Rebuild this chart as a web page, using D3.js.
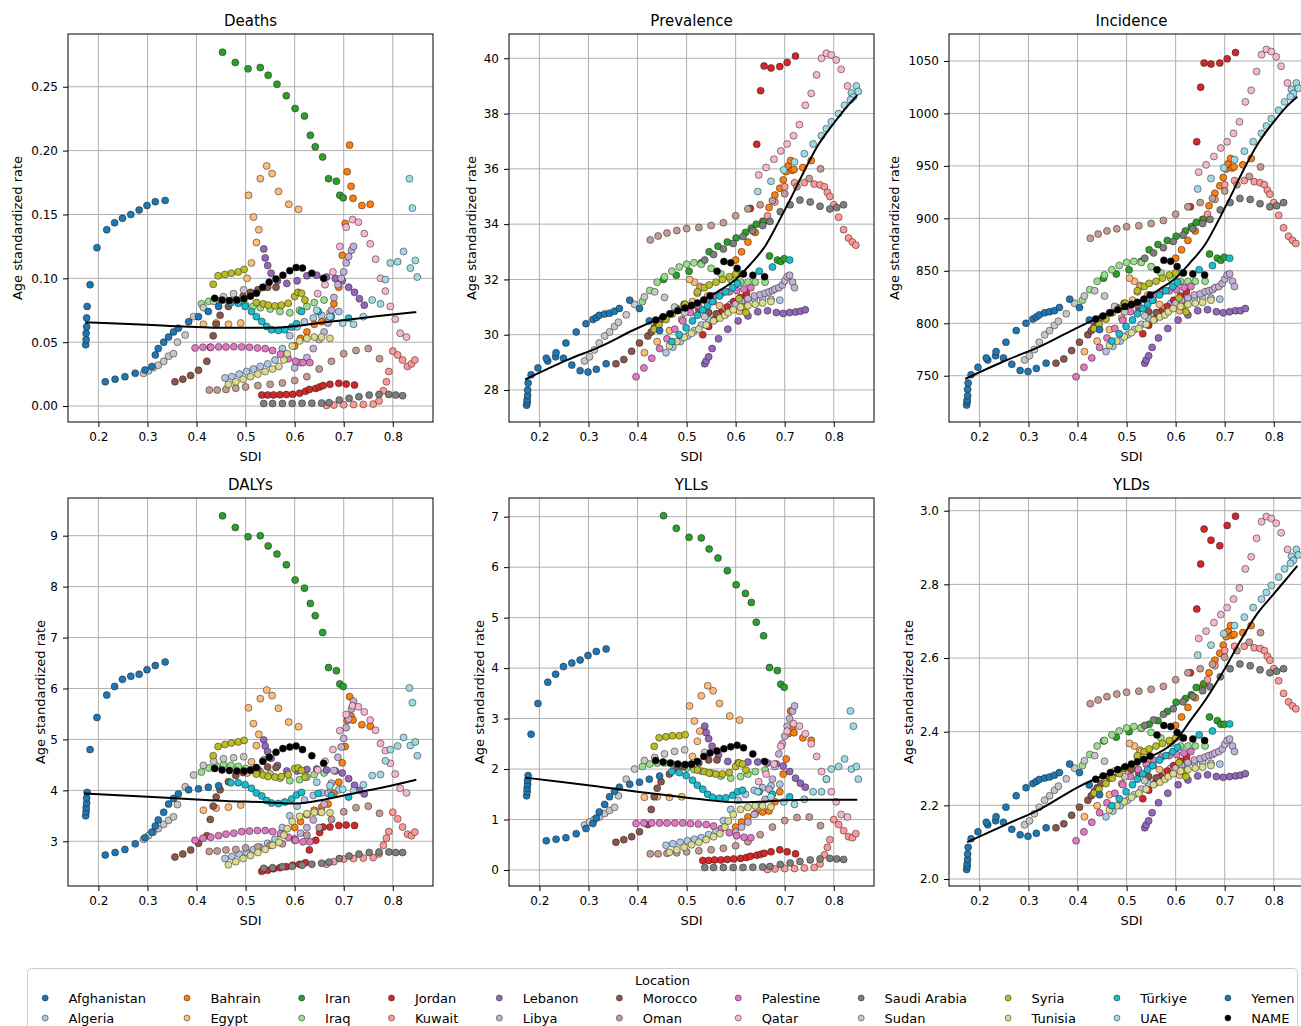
<!DOCTYPE html>
<html>
<head>
<meta charset="utf-8">
<script src="https://cdn.jsdelivr.net/npm/d3@7"></script>
<style>
  body { margin: 0; background: #fff; }
  text { font-family: "DejaVu Sans", sans-serif; }
</style>
</head>
<body>
<svg id="chart"></svg>
<script>
const locations = ["Afghanistan", "Algeria", "Bahrain", "Egypt", "Iran", "Iraq", "Jordan", "Kuwait",
  "Lebanon", "Libya", "Morocco", "Oman", "Palestine", "Qatar", "Saudi Arabia", "Sudan", "Syria",
  "Tunisia", "Türkiye", "UAE", "Yemen", "NAME"];

const palette = ["#1f77b4", "#aec7e8", "#ff7f0e", "#ffbb78", "#2ca02c", "#98df8a", "#d62728", "#ff9896",
  "#9467bd", "#c5b0d5", "#8c564b", "#c49c94", "#e377c2", "#f7b6d2", "#7f7f7f", "#c7c7c7", "#bcbd22",
  "#dbdb8d", "#17becf", "#9edae5", "#1f77b4", "#000000"];

const sdiTicks = [0.2, 0.3, 0.4, 0.5, 0.6, 0.7, 0.8];

// SDI per location (one value every second year)
const sdi = {
  "Afghanistan": [0.174,0.175,0.175,0.176,0.176,0.177,0.183,0.197,0.217,0.233,0.249,0.266,0.283,0.299,0.316,0.336],
  "Algeria": [0.458,0.472,0.487,0.502,0.516,0.53,0.545,0.56,0.575,0.59,0.605,0.62,0.638,0.655,0.672,0.69],
  "Bahrain": [0.6,0.612,0.625,0.64,0.655,0.668,0.68,0.69,0.697,0.703,0.707,0.712,0.715,0.719,0.737,0.754],
  "Egypt": [0.414,0.44,0.465,0.49,0.503,0.512,0.522,0.527,0.516,0.506,0.53,0.543,0.554,0.567,0.588,0.608],
  "Iran": [0.453,0.479,0.505,0.53,0.546,0.564,0.583,0.601,0.62,0.632,0.642,0.657,0.669,0.685,0.692,0.699],
  "Iraq": [0.41,0.425,0.44,0.455,0.47,0.485,0.5,0.515,0.53,0.55,0.57,0.59,0.61,0.625,0.64,0.66],
  "Jordan": [0.533,0.545,0.557,0.57,0.583,0.596,0.61,0.622,0.63,0.643,0.651,0.658,0.672,0.69,0.705,0.722],
  "Kuwait": [0.665,0.68,0.7,0.72,0.74,0.76,0.772,0.781,0.787,0.792,0.8,0.81,0.82,0.83,0.838,0.845],
  "Lebanon": [0.537,0.54,0.545,0.552,0.565,0.584,0.605,0.625,0.645,0.665,0.683,0.697,0.71,0.722,0.732,0.742],
  "Libya": [0.6,0.612,0.625,0.638,0.65,0.66,0.668,0.675,0.68,0.688,0.695,0.7,0.705,0.71,0.716,0.72],
  "Morocco": [0.356,0.372,0.388,0.404,0.421,0.428,0.434,0.44,0.448,0.465,0.48,0.495,0.51,0.525,0.545,0.562],
  "Oman": [0.426,0.442,0.46,0.48,0.5,0.525,0.55,0.575,0.6,0.625,0.65,0.675,0.7,0.725,0.75,0.773],
  "Palestine": [0.397,0.413,0.429,0.445,0.46,0.476,0.492,0.508,0.524,0.54,0.555,0.571,0.587,0.602,0.617,0.631],
  "Qatar": [0.647,0.662,0.678,0.692,0.705,0.718,0.73,0.742,0.754,0.765,0.775,0.785,0.795,0.805,0.815,0.828],
  "Saudi Arabia": [0.537,0.555,0.575,0.595,0.615,0.635,0.655,0.67,0.691,0.711,0.731,0.752,0.772,0.792,0.806,0.82],
  "Sudan": [0.292,0.302,0.312,0.322,0.333,0.343,0.353,0.361,0.377,0.394,0.414,0.435,0.455,0.4755,0.496,0.537],
  "Syria": [0.434,0.444,0.458,0.471,0.485,0.497,0.522,0.536,0.546,0.56,0.573,0.587,0.6,0.607,0.614,0.621],
  "Tunisia": [0.465,0.48,0.495,0.51,0.525,0.54,0.555,0.568,0.578,0.585,0.595,0.61,0.625,0.64,0.655,0.672],
  "Türkiye": [0.47,0.485,0.499,0.512,0.522,0.533,0.543,0.553,0.567,0.58,0.594,0.604,0.614,0.648,0.675,0.71],
  "UAE": [0.645,0.672,0.698,0.72,0.74,0.758,0.775,0.785,0.795,0.81,0.822,0.836,0.846,0.85,0.84,0.834],
  "Yemen": [0.214,0.234,0.254,0.275,0.295,0.309,0.316,0.322,0.333,0.343,0.353,0.363,0.384,0.404,0.424,0.445],
  "NAME": [0.437,0.452,0.467,0.482,0.497,0.51,0.522,0.535,0.548,0.562,0.576,0.59,0.603,0.616,0.635,0.659]
};

const deaths = {
  "Afghanistan": [0.048,0.052,0.057,0.062,0.069,0.078,0.095,0.124,0.138,0.1435,0.147,0.15,0.1535,0.157,0.16,0.161],
  "Algeria": [0.022,0.023,0.025,0.027,0.029,0.031,0.033,0.036,0.045,0.055,0.062,0.066,0.069,0.071,0.073,0.074],
  "Bahrain": [0.047,0.053,0.058,0.064,0.066,0.067,0.08,0.093,0.118,0.143,0.1835,0.2043,0.172,0.1626,0.157,0.158],
  "Egypt": [0.064,0.065,0.064,0.065,0.1,0.112,0.128,0.138,0.148,0.165,0.178,0.188,0.182,0.168,0.158,0.154],
  "Iran": [0.277,0.269,0.264,0.265,0.259,0.252,0.243,0.233,0.227,0.212,0.203,0.195,0.178,0.176,0.165,0.163],
  "Iraq": [0.08,0.082,0.083,0.083,0.082,0.081,0.079,0.078,0.077,0.076,0.074,0.073,0.075,0.078,0.081,0.083],
  "Jordan": [0.0086,0.0086,0.0087,0.0088,0.009,0.0092,0.01,0.0115,0.013,0.0138,0.015,0.016,0.017,0.0178,0.0172,0.0164],
  "Kuwait": [0.0005,0.0008,0.001,0.0012,0.0013,0.0015,0.004,0.012,0.019,0.027,0.043,0.04,0.036,0.031,0.033,0.036],
  "Lebanon": [0.123,0.116,0.11,0.104,0.098,0.096,0.098,0.102,0.1025,0.101,0.0999,0.098,0.093,0.089,0.084,0.079],
  "Libya": [0.03,0.034,0.038,0.045,0.052,0.058,0.065,0.075,0.085,0.095,0.1,0.105,0.112,0.117,0.122,0.125],
  "Morocco": [0.019,0.021,0.024,0.028,0.035,0.046,0.055,0.064,0.071,0.078,0.083,0.086,0.089,0.091,0.093,0.093],
  "Oman": [0.0125,0.0125,0.013,0.014,0.015,0.016,0.017,0.018,0.02,0.023,0.029,0.035,0.041,0.0435,0.045,0.037],
  "Palestine": [0.0455,0.046,0.046,0.0463,0.0463,0.0465,0.0463,0.046,0.0455,0.045,0.0435,0.0405,0.037,0.035,0.034,0.034],
  "Qatar": [0.088,0.095,0.105,0.125,0.14,0.146,0.144,0.135,0.127,0.115,0.1,0.09,0.078,0.068,0.057,0.054],
  "Saudi Arabia": [0.002,0.002,0.002,0.002,0.0021,0.0022,0.0023,0.0026,0.0047,0.006,0.0073,0.0086,0.0091,0.0091,0.0086,0.0081],
  "Sudan": [0.0256,0.0275,0.03,0.032,0.035,0.039,0.041,0.05,0.0556,0.07,0.077,0.082,0.0856,0.088,0.091,0.093],
  "Syria": [0.0953,0.102,0.103,0.104,0.105,0.107,0.081,0.08,0.079,0.0784,0.079,0.0805,0.0857,0.089,0.0883,0.083],
  "Tunisia": [0.017,0.019,0.021,0.023,0.025,0.027,0.029,0.031,0.036,0.041,0.047,0.051,0.053,0.054,0.054,0.053],
  "Türkiye": [0.081,0.0805,0.078,0.074,0.07,0.0662,0.0623,0.0597,0.0592,0.0597,0.0618,0.0644,0.074,0.074,0.07,0.0688],
  "UAE": [0.075,0.07,0.065,0.064,0.07,0.083,0.08,0.099,0.112,0.113,0.121,0.108,0.114,0.101,0.155,0.178],
  "Yemen": [0.019,0.021,0.023,0.0256,0.0282,0.031,0.04,0.045,0.05,0.054,0.058,0.061,0.066,0.07,0.074,0.078],
  "NAME": [0.0844,0.083,0.0826,0.083,0.084,0.086,0.0883,0.093,0.097,0.0995,0.1025,0.106,0.1085,0.108,0.104,0.1]
};

const prevalence = {
  "Afghanistan": [27.45,27.55,27.65,27.8,28.0,28.25,28.55,28.8,29.05,29.2,29.15,28.9,28.7,28.65,28.75,28.95],
  "Algeria": [29.35,29.55,29.75,29.95,30.15,30.35,30.55,30.75,30.95,31.1,31.2,31.25,31.3,31.3,31.28,31.25],
  "Bahrain": [32.7,33.0,33.35,33.7,34.1,34.6,35.05,35.3,35.6,35.9,36.1,36.3,35.95,35.98,36.05,36.3],
  "Egypt": [29.35,29.75,30.15,30.55,30.9,31.2,31.5,31.75,31.9,32.0,31.7,31.4,31.2,31.05,30.9,30.85],
  "Iran": [32.0,32.15,32.3,32.6,33.0,33.2,33.35,33.5,33.7,33.85,34.0,34.1,32.85,32.7,32.65,32.75],
  "Iraq": [31.2,31.6,31.9,32.1,32.3,32.45,32.55,32.6,32.55,32.4,32.2,32.0,31.9,31.9,31.9,31.9],
  "Jordan": [30.0,30.3,30.55,30.8,31.0,31.2,31.35,31.5,34.57,36.89,38.83,39.72,39.65,39.7,39.85,40.08],
  "Kuwait": [34.3,34.8,35.35,35.5,35.5,35.45,35.42,35.35,35.15,35.0,34.7,34.25,33.8,33.5,33.35,33.24],
  "Lebanon": [28.95,29.05,29.2,29.5,29.85,30.2,30.5,30.68,30.83,30.87,30.8,30.77,30.8,30.82,30.85,30.9],
  "Libya": [31.1,31.2,31.3,31.4,31.45,31.5,31.55,31.6,31.65,31.7,31.8,31.95,32.1,32.15,31.9,31.7],
  "Morocco": [28.95,29.1,29.4,29.7,29.95,30.1,30.25,30.4,30.55,30.75,30.95,31.1,31.05,30.9,30.8,30.75],
  "Oman": [33.43,33.57,33.68,33.77,33.84,33.88,33.95,34.05,34.3,34.55,34.7,34.85,35.1,35.35,35.65,36.0],
  "Palestine": [28.48,28.8,29.15,29.5,29.85,30.2,30.5,30.8,31.05,31.25,31.4,31.5,31.55,31.6,31.65,31.7],
  "Qatar": [35.78,36.05,36.35,36.65,36.9,37.2,37.6,38.3,38.73,39.4,40.0,40.18,40.12,39.94,39.6,39.0],
  "Saudi Arabia": [32.7,32.9,33.1,33.3,33.55,33.75,33.95,34.1,34.45,34.7,34.87,34.8,34.65,34.55,34.6,34.7],
  "Sudan": [29.05,29.2,29.45,29.7,29.95,30.1,30.3,30.45,30.72,31.1,31.37,31.55,31.35,31.0,30.8,30.65],
  "Syria": [30.2,30.35,30.55,30.75,30.9,31.1,31.55,31.7,31.8,31.9,32.0,32.1,32.2,31.3,31.0,30.8],
  "Tunisia": [29.6,29.75,29.9,30.05,30.2,30.35,30.5,30.6,30.7,30.8,30.9,31.0,31.05,31.1,31.15,31.2],
  "Türkiye": [29.75,30.0,30.25,30.5,30.7,30.9,31.05,31.2,31.4,31.55,31.7,31.85,32.2,32.3,32.45,32.7],
  "UAE": [35.18,35.55,35.96,36.25,36.55,36.9,37.2,37.45,37.7,38.0,38.3,38.75,39.0,38.8,38.6,38.5],
  "Yemen": [29.15,29.35,29.7,30.1,30.4,30.55,30.62,30.7,30.75,30.78,30.85,30.95,31.25,30.95,30.5,30.15],
  "NAME": [30.53,30.65,30.76,30.87,30.97,31.06,31.15,31.26,31.41,32.3,32.65,32.6,32.4,32.2,32.15,32.1]
};

const incidence = {
  "Afghanistan": [722,725,727,731,737,743,751,758,765,769,767,761,755,754,757,762],
  "Algeria": [773,778,783,789,794,799,805,810,815,819,822,823,824,824,824,823],
  "Bahrain": [862,870,879,888,899,912,924,931,939,947,952,957,948,949,951,957],
  "Egypt": [773,783,794,805,814,822,830,836,840,843,835,827,822,818,814,812],
  "Iran": [843,847,851,859,870,875,879,883,888,892,896,899,866,862,860,863],
  "Iraq": [822,832,840,846,851,855,858,859,858,854,848,843,840,840,840,840],
  "Jordan": [790,798,804,811,816,822,826,830,911,973,1025,1048,1047,1048,1052,1058],
  "Kuwait": [904,918,932,936,936,935,934,932,927,923,915,903,891,883,879,876],
  "Lebanon": [762,765,769,777,786,795,803,808,812,813,811,810,811,812,812,814],
  "Libya": [819,822,824,827,828,830,831,832,834,835,838,842,846,847,840,835],
  "Morocco": [762,766,774,782,789,793,797,801,805,810,815,819,818,814,811,810],
  "Oman": [881,885,888,890,892,893,895,898,904,911,915,919,926,932,940,949],
  "Palestine": [749,758,767,777,786,795,803,811,818,823,827,830,831,832,834,835],
  "Qatar": [944,951,959,967,973,981,992,1011,1022,1040,1056,1061,1059,1054,1045,1029],
  "Saudi Arabia": [862,867,872,878,884,890,895,899,908,915,919,918,914,911,912,915],
  "Sudan": [765,769,775,782,789,793,798,802,809,819,826,831,826,816,811,807],
  "Syria": [795,799,804,810,814,819,831,835,838,840,843,846,848,824,816,811],
  "Tunisia": [779,783,787,791,795,799,803,806,808,811,814,816,818,819,820,822],
  "Türkiye": [783,790,797,803,809,814,818,822,827,831,835,839,848,851,855,862],
  "UAE": [928,938,948,956,964,973,981,988,995,1003,1011,1023,1029,1024,1019,1016],
  "Yemen": [767,773,782,793,800,804,806,808,810,811,812,815,823,815,803,794],
  "NAME": [804,807,810,813,816,818,820,823,827,851,860,859,854,848,847,846]
};

const dalys = {
  "Afghanistan": [3.5,3.58,3.66,3.75,3.85,3.96,4.8,5.43,5.87,6.04,6.18,6.24,6.28,6.37,6.45,6.52],
  "Algeria": [2.66,2.7,2.75,2.79,2.84,2.88,2.96,3.04,3.27,3.5,3.69,3.81,3.9,3.95,3.98,4.01],
  "Bahrain": [3.27,3.39,3.52,3.61,3.67,3.73,3.94,4.16,4.54,4.86,5.37,5.84,5.46,5.38,5.29,5.26],
  "Egypt": [3.61,3.65,3.67,3.71,4.34,4.56,4.88,5.1,5.31,5.62,5.8,5.97,5.86,5.61,5.34,5.25],
  "Iran": [9.39,9.16,8.98,9.0,8.8,8.64,8.43,8.13,7.97,7.67,7.43,7.1,6.41,6.35,6.09,6.04],
  "Iraq": [4.36,4.44,4.48,4.5,4.49,4.47,4.43,4.4,4.37,4.32,4.24,4.19,4.21,4.26,4.31,4.34],
  "Jordan": [2.41,2.43,2.46,2.48,2.5,2.53,2.55,2.58,2.83,3.02,3.17,3.28,3.28,3.31,3.32,3.31],
  "Kuwait": [2.55,2.6,2.65,2.66,2.67,2.68,2.75,2.92,3.06,3.19,3.57,3.44,3.28,3.14,3.11,3.18],
  "Lebanon": [4.99,4.87,4.76,4.63,4.49,4.38,4.38,4.41,4.42,4.4,4.38,4.34,4.23,4.1,4.0,3.93],
  "Libya": [3.05,3.16,3.27,3.42,3.58,3.73,3.94,4.14,4.39,4.65,4.85,5.02,5.23,5.4,5.6,5.75],
  "Morocco": [2.69,2.75,2.83,2.96,3.11,3.43,3.69,3.87,4.01,4.17,4.29,4.35,4.39,4.41,4.46,4.45],
  "Oman": [2.8,2.81,2.83,2.84,2.87,2.89,2.92,2.95,3.02,3.12,3.27,3.43,3.58,3.66,3.69,3.55],
  "Palestine": [3.02,3.06,3.08,3.11,3.14,3.16,3.19,3.2,3.21,3.21,3.19,3.15,3.08,3.02,2.99,2.99],
  "Qatar": [4.4,4.57,4.8,5.17,5.49,5.66,5.64,5.54,5.38,5.18,4.92,4.78,4.53,4.32,4.04,3.95],
  "Saudi Arabia": [2.47,2.48,2.5,2.51,2.53,2.55,2.57,2.59,2.66,2.71,2.75,2.78,2.79,2.79,2.78,2.78],
  "Sudan": [3.04,3.11,3.18,3.25,3.33,3.41,3.48,3.72,4.07,4.3,4.49,4.57,4.62,4.64,4.66,4.6],
  "Syria": [4.68,4.86,4.9,4.93,4.95,4.98,4.32,4.3,4.27,4.26,4.27,4.31,4.43,4.44,4.39,4.26],
  "Tunisia": [2.54,2.6,2.66,2.72,2.78,2.84,2.92,2.98,3.12,3.25,3.39,3.49,3.54,3.57,3.57,3.56],
  "Türkiye": [4.15,4.15,4.11,4.04,3.95,3.89,3.8,3.75,3.74,3.77,3.83,3.91,3.96,3.94,3.9,3.87],
  "UAE": [4.16,4.09,4.02,3.99,4.11,4.29,4.31,4.58,4.8,4.87,5.04,4.88,4.95,4.68,5.72,6.01],
  "Yemen": [2.73,2.78,2.84,2.95,3.07,3.18,3.3,3.42,3.57,3.73,3.84,3.93,4.01,4.03,4.06,4.09],
  "NAME": [4.43,4.4,4.39,4.38,4.38,4.4,4.45,4.57,4.65,4.75,4.82,4.85,4.87,4.8,4.68,4.53]
};

const ylls = {
  "Afghanistan": [1.47,1.55,1.62,1.7,1.78,1.87,2.69,3.3,3.72,3.88,4.03,4.1,4.16,4.25,4.33,4.38],
  "Algeria": [0.49,0.52,0.55,0.58,0.61,0.64,0.7,0.77,0.98,1.2,1.38,1.5,1.58,1.63,1.67,1.7],
  "Bahrain": [0.85,0.95,1.05,1.12,1.15,1.17,1.35,1.55,1.9,2.2,2.7,3.15,2.8,2.72,2.62,2.57],
  "Egypt": [1.44,1.45,1.44,1.45,2.05,2.25,2.55,2.75,2.95,3.25,3.45,3.65,3.55,3.3,3.05,2.97],
  "Iran": [7.02,6.77,6.59,6.58,6.36,6.18,5.93,5.65,5.48,5.3,4.91,4.64,4.01,3.95,3.68,3.62],
  "Iraq": [2.05,2.1,2.12,2.12,2.1,2.07,2.02,1.99,1.96,1.92,1.86,1.82,1.85,1.9,1.95,1.98],
  "Jordan": [0.19,0.19,0.2,0.2,0.21,0.22,0.23,0.25,0.27,0.29,0.31,0.33,0.36,0.4,0.36,0.32],
  "Kuwait": [0.01,0.02,0.03,0.03,0.04,0.05,0.12,0.3,0.45,0.6,1.0,0.9,0.78,0.66,0.64,0.72],
  "Lebanon": [2.85,2.72,2.6,2.45,2.28,2.15,2.12,2.14,2.14,2.12,2.1,2.06,1.95,1.82,1.72,1.64],
  "Libya": [0.75,0.85,0.95,1.1,1.25,1.4,1.6,1.8,2.05,2.3,2.5,2.65,2.85,3.0,3.15,3.25],
  "Morocco": [0.55,0.6,0.66,0.76,0.9,1.2,1.45,1.62,1.75,1.9,2.0,2.05,2.09,2.12,2.18,2.18],
  "Oman": [0.32,0.32,0.33,0.34,0.36,0.38,0.4,0.43,0.48,0.56,0.7,0.85,0.98,1.04,1.05,0.88],
  "Palestine": [0.92,0.93,0.93,0.93,0.93,0.93,0.93,0.92,0.91,0.9,0.87,0.82,0.74,0.68,0.65,0.64],
  "Qatar": [1.75,1.9,2.1,2.45,2.75,2.9,2.85,2.7,2.5,2.25,1.95,1.8,1.55,1.35,1.1,1.05],
  "Saudi Arabia": [0.05,0.05,0.05,0.05,0.05,0.055,0.06,0.07,0.11,0.14,0.17,0.2,0.22,0.23,0.22,0.21],
  "Sudan": [0.89,0.95,1.0,1.05,1.12,1.18,1.24,1.47,1.8,2.0,2.17,2.23,2.3,2.35,2.38,2.33],
  "Syria": [2.45,2.62,2.64,2.66,2.66,2.68,1.98,1.95,1.92,1.9,1.9,1.93,2.05,2.12,2.1,1.98],
  "Tunisia": [0.35,0.4,0.45,0.5,0.55,0.6,0.66,0.72,0.85,0.97,1.1,1.2,1.24,1.27,1.27,1.25],
  "Türkiye": [1.95,1.93,1.87,1.78,1.68,1.6,1.5,1.44,1.42,1.43,1.48,1.55,1.58,1.55,1.5,1.45],
  "UAE": [1.55,1.45,1.35,1.3,1.4,1.55,1.55,1.8,2.0,2.05,2.2,2.0,2.05,1.8,2.85,3.15],
  "Yemen": [0.58,0.61,0.64,0.72,0.82,0.92,1.03,1.15,1.3,1.45,1.56,1.64,1.7,1.74,1.8,1.86],
  "NAME": [2.17,2.14,2.12,2.1,2.09,2.1,2.15,2.25,2.32,2.36,2.4,2.44,2.47,2.42,2.3,2.15]
};

const ylds = {
  "Afghanistan": [2.026,2.034,2.041,2.053,2.068,2.086,2.109,2.128,2.147,2.158,2.154,2.135,2.12,2.116,2.124,2.139],
  "Algeria": [2.169,2.184,2.199,2.214,2.229,2.244,2.259,2.274,2.289,2.301,2.308,2.312,2.316,2.316,2.314,2.312],
  "Bahrain": [2.417,2.44,2.466,2.492,2.522,2.56,2.594,2.613,2.635,2.658,2.673,2.688,2.661,2.664,2.669,2.688],
  "Egypt": [2.169,2.199,2.229,2.259,2.286,2.308,2.331,2.35,2.361,2.368,2.346,2.323,2.308,2.297,2.286,2.282],
  "Iran": [2.375,2.385,2.4,2.41,2.42,2.43,2.455,2.48,2.49,2.5,2.52,2.53,2.44,2.43,2.42,2.42],
  "Iraq": [2.308,2.338,2.361,2.376,2.391,2.402,2.41,2.414,2.41,2.398,2.383,2.368,2.361,2.361,2.361,2.361],
  "Jordan": [2.218,2.241,2.259,2.278,2.293,2.308,2.32,2.331,2.56,2.733,2.855,2.95,2.92,2.905,2.96,2.985],
  "Kuwait": [2.541,2.579,2.62,2.632,2.632,2.628,2.626,2.62,2.605,2.594,2.571,2.538,2.504,2.481,2.47,2.462],
  "Lebanon": [2.139,2.147,2.158,2.18,2.207,2.233,2.256,2.269,2.28,2.283,2.278,2.276,2.278,2.28,2.282,2.286],
  "Libya": [2.301,2.308,2.316,2.323,2.327,2.331,2.335,2.338,2.342,2.346,2.353,2.365,2.376,2.38,2.361,2.346],
  "Morocco": [2.139,2.15,2.173,2.195,2.214,2.226,2.237,2.248,2.259,2.274,2.289,2.301,2.297,2.286,2.278,2.274],
  "Oman": [2.476,2.486,2.495,2.502,2.507,2.51,2.515,2.523,2.541,2.56,2.571,2.583,2.602,2.62,2.643,2.669],
  "Palestine": [2.104,2.128,2.154,2.18,2.207,2.233,2.256,2.278,2.297,2.312,2.323,2.331,2.335,2.338,2.342,2.346],
  "Qatar": [2.653,2.673,2.696,2.718,2.737,2.76,2.79,2.842,2.875,2.925,2.97,2.984,2.979,2.966,2.94,2.895],
  "Saudi Arabia": [2.417,2.432,2.447,2.462,2.481,2.496,2.511,2.522,2.549,2.571,2.584,2.579,2.568,2.56,2.564,2.571],
  "Sudan": [2.147,2.158,2.177,2.195,2.214,2.226,2.241,2.252,2.272,2.301,2.321,2.335,2.32,2.293,2.278,2.267],
  "Syria": [2.233,2.244,2.259,2.274,2.286,2.301,2.335,2.346,2.353,2.361,2.368,2.376,2.383,2.316,2.293,2.278],
  "Tunisia": [2.188,2.199,2.21,2.222,2.233,2.244,2.256,2.263,2.271,2.278,2.286,2.293,2.297,2.301,2.304,2.308],
  "Türkiye": [2.199,2.218,2.237,2.256,2.271,2.286,2.297,2.308,2.323,2.335,2.346,2.357,2.383,2.391,2.402,2.421],
  "UAE": [2.608,2.635,2.666,2.688,2.711,2.737,2.76,2.778,2.797,2.82,2.842,2.876,2.895,2.88,2.865,2.857],
  "Yemen": [2.154,2.169,2.195,2.226,2.248,2.259,2.265,2.27,2.274,2.277,2.282,2.289,2.312,2.289,2.255,2.229],
  "NAME": [2.271,2.28,2.289,2.297,2.305,2.312,2.318,2.325,2.334,2.391,2.417,2.414,2.398,2.383,2.38,2.376]
};

// smoothed fit lines
const fitDeaths = { sdi: [0.173,0.25,0.33,0.4,0.45,0.5,0.55,0.6,0.65,0.7,0.75,0.8,0.848],
  rate: [0.0655,0.0645,0.063,0.0618,0.0612,0.0612,0.0612,0.0625,0.065,0.0672,0.0695,0.0717,0.0735] };
const fitPrevalence = { sdi: [0.171,0.256,0.324,0.392,0.46,0.528,0.569,0.6,0.63,0.66,0.685,0.71,0.735,0.766,0.8,0.827,0.848],
  rate: [28.38,29.08,29.57,30.17,30.71,31.19,31.62,32.0,32.55,33.2,34.0,34.85,35.75,36.8,37.65,38.25,38.67] };
const fitIncidence = { sdi: [0.171,0.256,0.324,0.392,0.46,0.528,0.569,0.6,0.63,0.66,0.685,0.71,0.735,0.766,0.8,0.827,0.848],
  rate: [747,765,778,794,809,821,833,843,858,875,896,919,943,970,992,1007,1016] };
const fitDalys = { sdi: [0.171,0.25,0.33,0.4,0.46,0.53,0.6,0.65,0.7,0.75,0.8,0.848],
  rate: [3.94,3.9,3.86,3.82,3.79,3.77,3.74,3.8,3.9,4.0,4.1,4.21] };
const fitYlls = { sdi: [0.171,0.25,0.33,0.4,0.46,0.53,0.6,0.65,0.7,0.75,0.8,0.848],
  rate: [1.83,1.74,1.64,1.55,1.48,1.4,1.34,1.35,1.38,1.39,1.39,1.39] };
const fitYlds = { sdi: [0.175,0.256,0.324,0.406,0.46,0.528,0.583,0.6,0.63,0.664,0.698,0.732,0.766,0.8,0.834,0.848],
  rate: [2.1,2.149,2.19,2.253,2.285,2.321,2.357,2.376,2.43,2.493,2.566,2.647,2.72,2.774,2.828,2.85] };

const svg = d3.select("#chart").attr("width", 1301).attr("height", 1026);

const colLeft = [68, 509, 949];
const rowTop = [34, 498];
const pw = 365, ph = 388;

const panels = [
  { title: "Deaths", values: deaths, fit: fitDeaths, col: 0, row: 0, dom: [-0.0125, 0.2913],
    ticks: [0, 0.05, 0.1, 0.15, 0.2, 0.25], fmt: d3.format(".2f"), labelX: 21.5 },
  { title: "Prevalence", values: prevalence, fit: fitPrevalence, col: 1, row: 0, dom: [26.842, 40.879],
    ticks: [28, 30, 32, 34, 36, 38, 40], fmt: d3.format("d"), labelX: 475.5 },
  { title: "Incidence", values: incidence, fit: fitIncidence, col: 2, row: 0, dom: [705.9, 1075.7],
    ticks: [750, 800, 850, 900, 950, 1000, 1050], fmt: d3.format("d"), labelX: 898.5 },
  { title: "DALYs", values: dalys, fit: fitDalys, col: 0, row: 1, dom: [2.122, 9.74],
    ticks: [3, 4, 5, 6, 7, 8, 9], fmt: d3.format("d"), labelX: 44.5 },
  { title: "YLLs", values: ylls, fit: fitYlls, col: 1, row: 1, dom: [-0.317, 7.37],
    ticks: [0, 1, 2, 3, 4, 5, 6, 7], fmt: d3.format("d"), labelX: 483.5 },
  { title: "YLDs", values: ylds, fit: fitYlds, col: 2, row: 1, dom: [1.981, 3.0345],
    ticks: [2.0, 2.2, 2.4, 2.6, 2.8, 3.0], fmt: d3.format(".1f"), labelX: 912.5 }
];

panels.forEach((p, i) => {
  const left = colLeft[p.col], top = rowTop[p.row];
  const x = d3.scaleLinear().domain([0.138, 0.882]).range([left, left + pw]);
  const y = d3.scaleLinear().domain(p.dom).range([top + ph, top]);
  const g = svg.append("g");

  g.append("clipPath").attr("id", "clip" + i)
    .append("rect").attr("x", left).attr("y", top).attr("width", pw).attr("height", ph);

  // grid
  g.append("g").selectAll("line").data(sdiTicks).join("line")
    .attr("x1", d => x(d)).attr("x2", d => x(d)).attr("y1", top).attr("y2", top + ph)
    .attr("stroke", "#b0b0b0").attr("stroke-width", 1);
  g.append("g").selectAll("line").data(p.ticks).join("line")
    .attr("x1", left).attr("x2", left + pw).attr("y1", d => y(d)).attr("y2", d => y(d))
    .attr("stroke", "#b0b0b0").attr("stroke-width", 1);

  const plot = g.append("g").attr("clip-path", `url(#clip${i})`);
  locations.forEach((loc, k) => {
    const pts = d3.zip(sdi[loc], p.values[loc]);
    plot.append("g").selectAll("circle").data(pts).join("circle")
      .attr("cx", d => x(d[0])).attr("cy", d => y(d[1])).attr("r", 3.5)
      .attr("fill", palette[k]).attr("stroke", "#1a1a1a").attr("stroke-width", 0.5);
  });

  const line = d3.line().x(d => x(d[0])).y(d => y(d[1])).curve(d3.curveMonotoneX);
  plot.append("path").datum(d3.zip(p.fit.sdi, p.fit.rate)).attr("d", line)
    .attr("fill", "none").attr("stroke", "#000").attr("stroke-width", 2);

  g.append("rect").attr("x", left).attr("y", top).attr("width", pw).attr("height", ph)
    .attr("fill", "none").attr("stroke", "#000").attr("stroke-width", 1);

  const xa = g.append("g").attr("transform", `translate(0,${top + ph})`)
    .call(d3.axisBottom(x).tickValues(sdiTicks).tickFormat(d3.format(".1f")).tickSize(5).tickPadding(5));
  xa.select(".domain").remove();
  xa.attr("font-size", 12).attr("font-family", "DejaVu Sans");

  const ya = g.append("g").attr("transform", `translate(${left},0)`)
    .call(d3.axisLeft(y).tickValues(p.ticks).tickFormat(p.fmt).tickSize(5).tickPadding(5));
  ya.select(".domain").remove();
  ya.attr("font-size", 12).attr("font-family", "DejaVu Sans");

  g.append("text").attr("x", left + pw / 2).attr("y", top - 8).attr("text-anchor", "middle")
    .attr("font-size", 15).text(p.title);
  g.append("text").attr("x", left + pw / 2).attr("y", top + ph + 39).attr("text-anchor", "middle")
    .attr("font-size", 13).text("SDI");
  g.append("text").attr("transform", `translate(${p.labelX},${top + ph / 2}) rotate(-90)`)
    .attr("text-anchor", "middle").attr("font-size", 13).text("Age standardized rate");
});

// legend
const legend = svg.append("g");
legend.append("rect").attr("x", 27.5).attr("y", 968.5).attr("width", 1270).attr("height", 80).attr("rx", 4)
  .attr("fill", "#fff").attr("stroke", "#cccccc");
legend.append("text").attr("x", 662.5).attr("y", 984.5).attr("text-anchor", "middle")
  .attr("font-size", 13).text("Location");
let colX = 32.2;
for (let c = 0; c < 11; c++) {
  let maxW = 0;
  [0, 1].forEach(r => {
    const k = 2 * c + r;
    const cy = 998 + r * 20;
    legend.append("circle").attr("cx", colX + 13).attr("cy", cy).attr("r", 3)
      .attr("fill", palette[k]).attr("stroke", "#1a1a1a").attr("stroke-width", 0.5);
    const t = legend.append("text").attr("x", colX + 36.4).attr("y", cy).attr("dy", "0.35em")
      .attr("font-size", 13).text(locations[k]);
    maxW = Math.max(maxW, t.node().getComputedTextLength());
  });
  colX += 36.4 + maxW + 28;
}
</script>
</body>
</html>
